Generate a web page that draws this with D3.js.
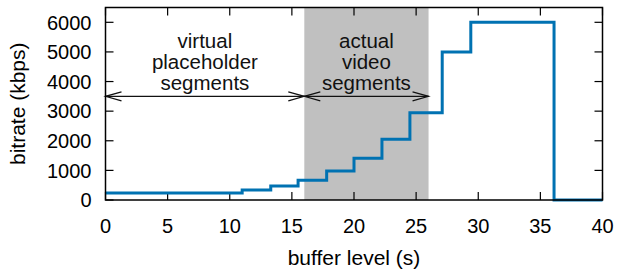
<!DOCTYPE html>
<html>
<head>
<meta charset="utf-8">
<script src="https://cdn.jsdelivr.net/npm/d3@7"></script>
<style>
  body { margin: 0; background: #fff; }
  svg { display: block; font-family: "Liberation Sans", Arial, sans-serif; }
</style>
</head>
<body>
<div id="chart"></div>
<script>
// data
const stepStarts = [0, 11, 13.3, 15.5, 17.8, 20.0, 22.25, 24.5, 27.1, 29.4, 36.1];
const bitrates = [240, 340, 475, 670, 980, 1410, 2050, 2950, 5000, 6000, 0];
const xEnd = 40;
const shadeRange = [16, 26];
const arrowLevel = 3500;
const xTicks = [0, 5, 10, 15, 20, 25, 30, 35, 40];
const yTicks = [0, 1000, 2000, 3000, 4000, 5000, 6000];
const notes = [
  { x: 8, lines: ["virtual", "placeholder", "segments"] },
  { x: 21, lines: ["actual", "video", "segments"] }
];
const arrows = [[0, 16], [16, 26]];

const width = 617, height = 271;
const margin = { top: 7.5, right: 14.5, bottom: 71, left: 105.5 };

const svg = d3.select("#chart").append("svg")
  .attr("width", width).attr("height", height);

const x = d3.scaleLinear().domain([0, 40]).range([margin.left, width - margin.right]);
const y = d3.scaleLinear().domain([0, 6500]).range([height - margin.bottom, margin.top]);

// shaded area
svg.append("rect")
  .attr("x", x(shadeRange[0]))
  .attr("y", y(6500))
  .attr("width", x(shadeRange[1]) - x(shadeRange[0]))
  .attr("height", y(0) - y(6500))
  .attr("fill", "#c0c0c0");

// ticks (inward, mirrored)
const tickLen = 8;
const ax = svg.append("g").attr("stroke", "#000").attr("stroke-width", 1.2);
xTicks.forEach(t => {
  ax.append("line").attr("x1", x(t)).attr("x2", x(t)).attr("y1", y(0)).attr("y2", y(0) - tickLen);
  ax.append("line").attr("x1", x(t)).attr("x2", x(t)).attr("y1", y(6500)).attr("y2", y(6500) + tickLen);
});
yTicks.forEach(t => {
  ax.append("line").attr("x1", x(0)).attr("x2", x(0) + tickLen).attr("y1", y(t)).attr("y2", y(t));
  ax.append("line").attr("x1", x(40)).attr("x2", x(40) - tickLen).attr("y1", y(t)).attr("y2", y(t));
});

// tick labels
svg.append("g").selectAll("text").data(xTicks).join("text")
  .attr("x", d => x(d)).attr("y", y(0) + 32.5)
  .attr("text-anchor", "middle").attr("font-size", 20)
  .text(d => d);
svg.append("g").selectAll("text").data(yTicks).join("text")
  .attr("x", x(0) - 14).attr("y", d => y(d) + 7.2)
  .attr("text-anchor", "end").attr("font-size", 20)
  .text(d => d);

// axis titles
svg.append("text")
  .attr("x", (x(0) + x(40)) / 2).attr("y", 265)
  .attr("text-anchor", "middle").attr("font-size", 21)
  .text("buffer level (s)");
svg.append("text")
  .attr("transform", `translate(25,${(y(0) + y(6500)) / 2}) rotate(-90)`)
  .attr("text-anchor", "middle").attr("font-size", 21)
  .text("bitrate (kbps)");

// annotations
notes.forEach(n => {
  svg.append("g").selectAll("text").data(n.lines).join("text")
    .attr("x", x(n.x)).attr("y", (d, i) => 47.5 + i * 21)
    .attr("text-anchor", "middle").attr("font-size", 20.5)
    .attr("fill", "#111")
    .text(d => d);
});

// double headed arrows
const ay = y(arrowLevel);
const head = 16, half = 4.5;
const ar = svg.append("g").attr("stroke", "#111").attr("stroke-width", 1.2).attr("fill", "none");
arrows.forEach(([a, b]) => {
  const x1 = x(a), x2 = x(b);
  ar.append("line").attr("x1", x1).attr("x2", x2).attr("y1", ay).attr("y2", ay);
  ar.append("path").attr("d", `M${x1 + head},${ay - half}L${x1},${ay}L${x1 + head},${ay + half}`);
  ar.append("path").attr("d", `M${x2 - head},${ay - half}L${x2},${ay}L${x2 - head},${ay + half}`);
});

// step line
const stepData = stepStarts.map((s, i) => ({ x: s, v: bitrates[i] }));
stepData.push({ x: xEnd, v: bitrates[bitrates.length - 1] });
const line = d3.line().x(d => x(d.x)).y(d => y(d.v)).curve(d3.curveStepAfter);
svg.append("path")
  .datum(stepData)
  .attr("d", line)
  .attr("fill", "none")
  .attr("stroke", "#0072b2")
  .attr("stroke-width", 3);

// frame
svg.append("rect")
  .attr("x", x(0)).attr("y", y(6500))
  .attr("width", x(40) - x(0)).attr("height", y(0) - y(6500))
  .attr("fill", "none").attr("stroke", "#000").attr("stroke-width", 1.5);
</script>
</body>
</html>
